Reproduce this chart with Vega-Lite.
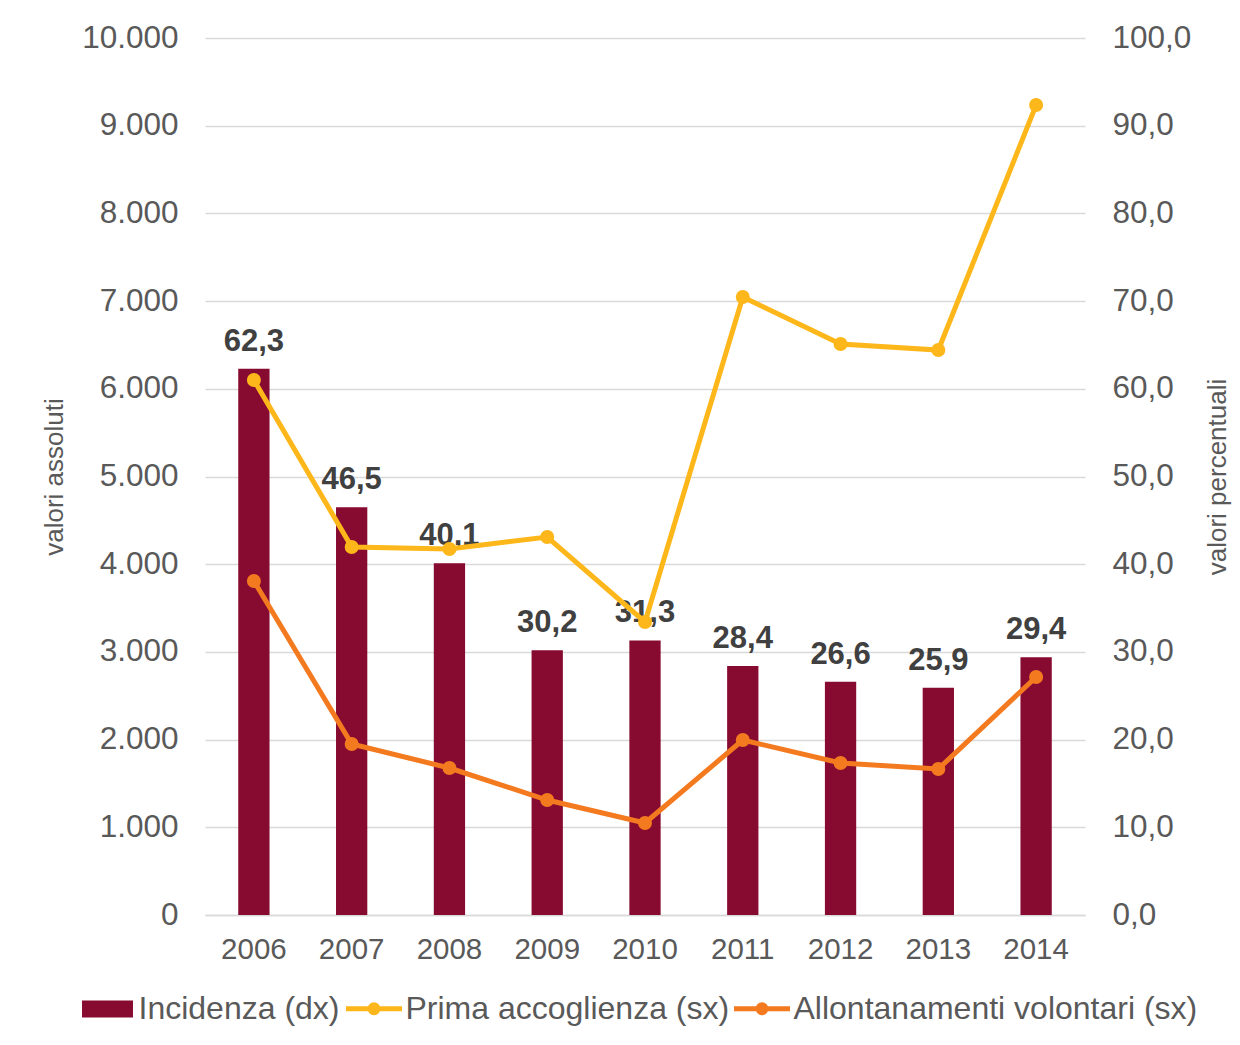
{
  "$schema": "https://vega.github.io/schema/vega-lite/v6.json",
  "width": 880,
  "height": 877,
  "autosize": "none",
  "padding": {"left": 205, "top": 38, "right": 155, "bottom": 130},
  "background": "white",
  "config": {
    "locale": {"number": {"decimal": ",", "thousands": ".", "grouping": [3], "currency": ["€", ""]}},
    "view": {"stroke": null},
    "font": "Liberation Sans",
    "axis": {"labelFont": "Liberation Sans", "titleFont": "Liberation Sans", "labelColor": "#595959", "titleColor": "#595959", "titleFontWeight": "normal", "ticks": false, "domain": false, "gridColor": "#d9d9d9", "gridWidth": 1.5},
    "legend": {
      "title": null, "orient": "none", "direction": "horizontal",
      "labelFontSize": 32, "labelColor": "#595959", "labelFont": "Liberation Sans", "labelLimit": 0,
      "symbolSize": 3136, "symbolOpacity": 1
    }
  },
  "datasets": {
    "barre": [
      {"anno": "2006", "serie": "Incidenza (dx)", "incidenza": 62.3},
      {"anno": "2007", "serie": "Incidenza (dx)", "incidenza": 46.5},
      {"anno": "2008", "serie": "Incidenza (dx)", "incidenza": 40.1},
      {"anno": "2009", "serie": "Incidenza (dx)", "incidenza": 30.2},
      {"anno": "2010", "serie": "Incidenza (dx)", "incidenza": 31.3},
      {"anno": "2011", "serie": "Incidenza (dx)", "incidenza": 28.4},
      {"anno": "2012", "serie": "Incidenza (dx)", "incidenza": 26.6},
      {"anno": "2013", "serie": "Incidenza (dx)", "incidenza": 25.9},
      {"anno": "2014", "serie": "Incidenza (dx)", "incidenza": 29.4}
    ],
    "linee": [
      {"anno": "2006", "serie": "Prima accoglienza (sx)", "valore": 6100},
      {"anno": "2007", "serie": "Prima accoglienza (sx)", "valore": 4196},
      {"anno": "2008", "serie": "Prima accoglienza (sx)", "valore": 4173},
      {"anno": "2009", "serie": "Prima accoglienza (sx)", "valore": 4310},
      {"anno": "2010", "serie": "Prima accoglienza (sx)", "valore": 3341},
      {"anno": "2011", "serie": "Prima accoglienza (sx)", "valore": 7047},
      {"anno": "2012", "serie": "Prima accoglienza (sx)", "valore": 6511},
      {"anno": "2013", "serie": "Prima accoglienza (sx)", "valore": 6442},
      {"anno": "2014", "serie": "Prima accoglienza (sx)", "valore": 9236},
      {"anno": "2006", "serie": "Allontanamenti volontari (sx)", "valore": 3808},
      {"anno": "2007", "serie": "Allontanamenti volontari (sx)", "valore": 1950},
      {"anno": "2008", "serie": "Allontanamenti volontari (sx)", "valore": 1676},
      {"anno": "2009", "serie": "Allontanamenti volontari (sx)", "valore": 1311},
      {"anno": "2010", "serie": "Allontanamenti volontari (sx)", "valore": 1049},
      {"anno": "2011", "serie": "Allontanamenti volontari (sx)", "valore": 1995},
      {"anno": "2012", "serie": "Allontanamenti volontari (sx)", "valore": 1733},
      {"anno": "2013", "serie": "Allontanamenti volontari (sx)", "valore": 1665},
      {"anno": "2014", "serie": "Allontanamenti volontari (sx)", "valore": 2714}
    ]
  },
  "encoding": {
    "x": {
      "field": "anno", "type": "ordinal",
      "scale": {"paddingInner": 0, "paddingOuter": 0},
      "axis": {"title": null, "labelAngle": 0, "labelFontSize": 29.5, "labelPadding": 20, "domain": true, "domainColor": "#d9d9d9", "domainWidth": 1.5, "grid": false}
    }
  },
  "layer": [
    {
      "layer": [
        {
          "data": {"name": "barre"},
          "mark": {"type": "bar", "width": {"band": 0.32}, "stroke": null},
          "encoding": {
            "y": {
              "field": "incidenza", "type": "quantitative",
              "scale": {"domain": [0, 100], "nice": false},
              "axis": {"orient": "right", "title": "valori percentuali", "titleAngle": 270, "titleBaseline": "top", "titleFontSize": 26, "titlePadding": 14, "format": ".1f", "values": [0, 10, 20, 30, 40, 50, 60, 70, 80, 90, 100], "labelFontSize": 31.5, "labelPadding": 27, "grid": false}
            },
            "fill": {
              "field": "serie", "type": "nominal",
              "scale": {"domain": ["Incidenza (dx)"], "range": ["#870A31"]},
              "legend": {
                "legendX": -125.5, "legendY": 943, "labelOffset": 3,
                "symbolType": "M-0.91,-0.3H0.91V0.3H-0.91Z", "symbolStrokeWidth": 0, "symbolFillColor": "#870A31"
              }
            }
          }
        },
        {
          "data": {"name": "barre"},
          "mark": {"type": "text", "baseline": "alphabetic", "dy": -18, "fontSize": 31, "fontWeight": "bold", "color": "#404040", "font": "Liberation Sans"},
          "encoding": {
            "y": {"field": "incidenza", "type": "quantitative"},
            "text": {"field": "incidenza", "type": "quantitative", "format": ".1f"}
          }
        }
      ]
    },
    {
      "data": {"name": "linee"},
      "layer": [
        {
          "mark": {"type": "line", "strokeWidth": 5},
          "encoding": {
            "y": {
              "field": "valore", "type": "quantitative",
              "scale": {"domain": [0, 10000], "nice": false},
              "axis": {"orient": "left", "title": "valori assoluti", "titleFontSize": 26, "titlePadding": 14, "format": ",.0f", "values": [0, 1000, 2000, 3000, 4000, 5000, 6000, 7000, 8000, 9000, 10000], "labelFontSize": 31.5, "labelPadding": 27, "grid": true}
            },
            "stroke": {
              "field": "serie", "type": "nominal",
              "scale": {"domain": ["Prima accoglienza (sx)", "Allontanamenti volontari (sx)"], "range": ["#FDB71A", "#F47A20"]},
              "legend": {
                "legendX": 138.5, "legendY": 940, "labelOffset": 1, "columnPadding": -6,
                "symbolType": "M-1,0H1M0.143,0A0.143,0.143 0 1,1 -0.143,0A0.143,0.143 0 1,1 0.143,0M0.054,0A0.054,0.054 0 1,1 -0.054,0A0.054,0.054 0 1,1 0.054,0",
                "symbolStrokeWidth": 5
              }
            }
          }
        },
        {
          "mark": {"type": "point", "filled": false, "size": 49, "strokeWidth": 7, "opacity": 1},
          "encoding": {
            "y": {"field": "valore", "type": "quantitative"},
            "stroke": {"field": "serie", "type": "nominal"}
          }
        }
      ]
    }
  ],
  "resolve": {"scale": {"y": "independent"}}
}
